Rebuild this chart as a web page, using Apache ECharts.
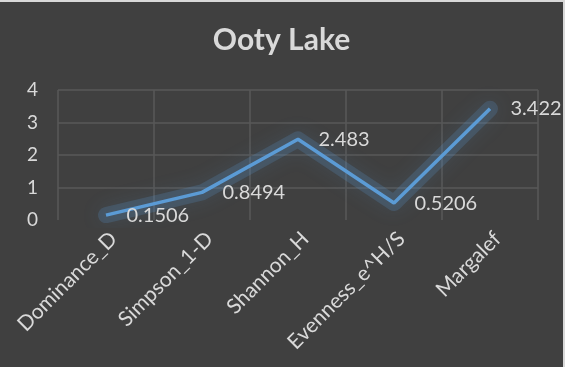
<!DOCTYPE html>
<html>
<head>
<meta charset="utf-8">
<script src="https://cdn.jsdelivr.net/npm/echarts@6/dist/echarts.min.js"></script>
<style>
html,body{margin:0;padding:0;background:#d9d9d9;}
#c{position:absolute;left:0;top:2px;width:563px;height:365px;background:#404040;}
</style>
</head>
<body>
<div id="c"></div>
<script>
var categories = ['Dominance_D', 'Simpson_1-D', 'Shannon_H', 'Evenness_e^H/S', 'Margalef'];
var values = [0.1506, 0.8494, 2.483, 0.5206, 3.422];
var yTicks = [0, 1, 2, 3, 4];
var titleText = 'Ooty Lake';

var chart = echarts.init(document.getElementById('c'));
var txt = '#d9d9d9';
var grid = '#595959';
var ff = 'Lato, "Open Sans", sans-serif';
chart.setOption({
  backgroundColor: '#404040',
  animation: false,
  title: {
    text: titleText, left: 'center', top: 18,
    textStyle: { color: txt, fontSize: 30, fontWeight: 'bold', fontFamily: ff }
  },
  grid: { left: 58, right: 25, top: 88, bottom: 147, containLabel: false },
  xAxis: {
    type: 'category', data: categories, boundaryGap: true,
    axisLine: { show: false }, axisTick: { show: false },
    splitLine: { show: true, lineStyle: { color: grid, width: 1.5 } },
    axisLabel: { color: txt, fontSize: 21, fontFamily: ff, rotate: 45, margin: 8, interval: 0, verticalAlign: 'top' }
  },
  yAxis: {
    type: 'value', min: yTicks[0], max: yTicks[yTicks.length - 1], interval: 1,
    axisLine: { show: false }, axisTick: { show: false },
    splitLine: { lineStyle: { color: ['rgba(0,0,0,0)', grid, grid, grid, grid], width: 1.5 } },
    axisLabel: { color: txt, fontSize: 19, fontFamily: ff, margin: 20 }
  },
  series: [{
    type: 'line', data: values, symbol: 'none', silent: true, z: 1,
    lineStyle: { color: 'rgba(91,155,213,0.2)', width: 16, join: 'round', cap: 'round',
                 shadowColor: 'rgba(91,155,213,0.6)', shadowBlur: 20 }
  }, {
    type: 'line', data: values, symbol: 'circle', symbolSize: 1, showSymbol: true, z: 2,
    itemStyle: { color: 'rgba(0,0,0,0)' },
    lineStyle: { color: '#5b9bd5', width: 3.5 },
    label: { show: true, position: 'right', distance: 20, color: txt, fontSize: 20, fontFamily: ff }
  }]
});
</script>
</body>
</html>
